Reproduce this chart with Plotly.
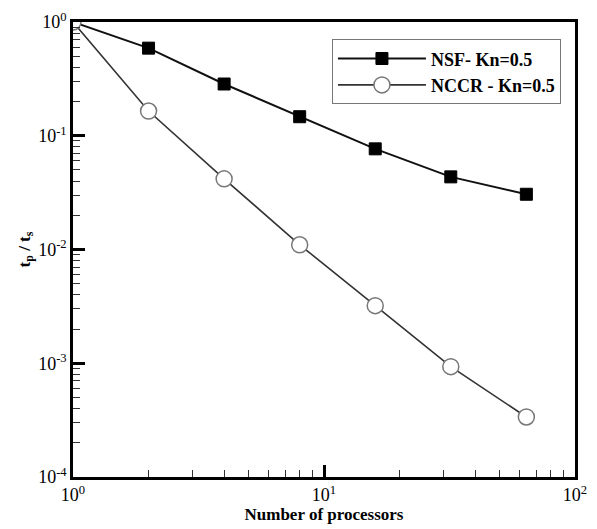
import plotly.graph_objects as go

procs = [1, 2, 4, 8, 16, 32, 64]
nsf = [1.0, 0.589, 0.285, 0.147, 0.0767, 0.0435, 0.0306]
nccr = [1.0, 0.165, 0.0418, 0.0110, 0.00321, 0.000933, 0.000337]

x_tickvals = [1, 10, 100]
x_ticktext = ["10<sup>0</sup>", "10<sup>1</sup>", "10<sup>2</sup>"]
y_tickvals = [1e-4, 1e-3, 1e-2, 1e-1, 1]
y_ticktext = ["10<sup>-4</sup>", "10<sup>-3</sup>", "10<sup>-2</sup>", "10<sup>-1</sup>", "10<sup>0</sup>"]

serif = "Liberation Serif, Times New Roman, serif"

fig = go.Figure()
fig.add_trace(go.Scatter(
    x=procs, y=nsf, mode="lines+markers", name="<b>NSF- Kn=0.5</b>",
    line=dict(color="#111111", width=2),
    marker=dict(symbol="square", size=12, color="black", line=dict(color="black", width=1)),
))
fig.add_trace(go.Scatter(
    x=procs, y=nccr, mode="lines+markers", name="<b>NCCR - Kn=0.5</b>",
    line=dict(color="#333333", width=1.6),
    marker=dict(symbol="circle", size=16, color="white", line=dict(color="#777777", width=1.5)),
))

fig.update_layout(
    width=597, height=529,
    margin=dict(l=73, r=10, t=15, b=44),
    paper_bgcolor="white", plot_bgcolor="white",
    font=dict(family=serif, size=17, color="black"),
    showlegend=True,
    legend=dict(
        x=0.972, y=0.962, xanchor="right", yanchor="top",
        bordercolor="#777777", borderwidth=1, bgcolor="white",
        font=dict(family=serif, size=18, color="black"),
        tracegroupgap=0, itemwidth=88,
    ),
    xaxis=dict(
        type="log", range=[0, 2],
        tickmode="array", tickvals=x_tickvals, ticktext=x_ticktext,
        ticks="inside", ticklen=12, tickwidth=2.5, tickcolor="black",
        showline=True, linecolor="black", linewidth=2.5, mirror=True,
        showgrid=False, zeroline=False,
        minor=dict(ticks="inside", dtick="D1", ticklen=7,
                   tickwidth=1.2, tickcolor="#333333", showgrid=False),
        tickfont=dict(family=serif, size=18),
        title=dict(text="<b>Number of processors</b>", font=dict(family=serif, size=17), standoff=2),
    ),
    yaxis=dict(
        type="log", range=[-4, 0],
        tickmode="array", tickvals=y_tickvals, ticktext=y_ticktext,
        ticks="inside", ticklen=12, tickwidth=2.5, tickcolor="black",
        showline=True, linecolor="black", linewidth=2.5, mirror=True,
        showgrid=False, zeroline=False,
        minor=dict(ticks="inside", dtick="D1", ticklen=7,
                   tickwidth=1.2, tickcolor="#333333", showgrid=False),
        tickfont=dict(family=serif, size=18),
        title=dict(text="<b>t<sub>p</sub> / t<sub>s</sub></b>", font=dict(family=serif, size=17), standoff=4),
    ),
)

fig.write_html("out.html")
